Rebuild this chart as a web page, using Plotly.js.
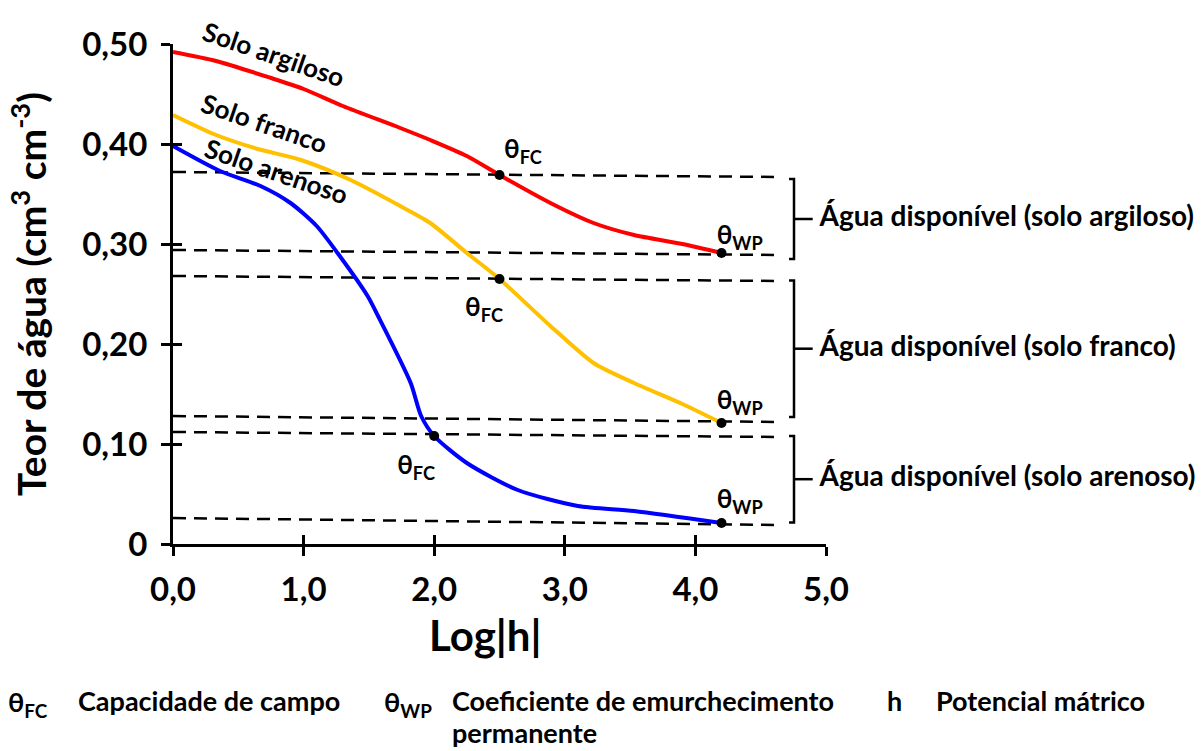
<!DOCTYPE html>
<html>
<head>
<meta charset="utf-8">
<script src="https://cdn.plot.ly/plotly-3.0.1.min.js"></script>
<style>html,body{margin:0;padding:0;background:#fff}#chart{width:1203px;height:751px}</style>
</head>
<body>
<div id="chart"></div>
<script>
// ---- data ----
const logH_argiloso  = [0, 0.33, 0.75, 1.0, 1.3, 1.74, 1.97, 2.25, 2.5, 2.89, 3.22, 3.53, 3.9, 4.2];
const theta_argiloso = [0.492, 0.483, 0.466, 0.455, 0.438, 0.416, 0.404, 0.388, 0.369, 0.341, 0.321, 0.309, 0.300, 0.291];

const logH_franco  = [0, 0.33, 0.65, 0.98, 1.36, 1.74, 1.97, 2.25, 2.5, 2.89, 3.22, 3.53, 3.9, 4.2];
const theta_franco = [0.429, 0.409, 0.395, 0.384, 0.364, 0.338, 0.321, 0.291, 0.265, 0.218, 0.181, 0.161, 0.140, 0.121];

const logH_arenoso  = [0, 0.36, 0.67, 0.9, 1.1, 1.26, 1.49, 1.57, 1.82, 1.9, 2.0, 2.25, 2.64, 3.1, 3.53, 4.2];
const theta_arenoso = [0.398, 0.373, 0.358, 0.341, 0.318, 0.291, 0.248, 0.228, 0.161, 0.128, 0.108, 0.081, 0.054, 0.038, 0.033, 0.021];

const fcX = [2.5, 2.5, 2.0];
const fcY = [0.369, 0.265, 0.108];
const wpX = [4.2, 4.2, 4.2];
const wpY = [0.291, 0.121, 0.021];

// dashed reference levels (left end, right end)
const dashX = [0, 4.64];
const dashLeft  = [0.372, 0.294, 0.268, 0.128, 0.112, 0.026];
const dashRight = [0.367, 0.289, 0.263, 0.122, 0.107, 0.019];

// available-water brackets (top, bottom)
const bracketTop    = [0.365, 0.2636, 0.108];
const bracketBottom = [0.285, 0.127, 0.0216];
const bracketLabels = ['Água disponível (solo argiloso)', 'Água disponível (solo franco)', 'Água disponível (solo arenoso)'];

const xTickVals = [0, 1, 2, 3, 4, 5];
const xTickText = ['0,0', '1,0', '2,0', '3,0', '4,0', '5,0'];
const yTickVals = [0, 0.1, 0.2, 0.3, 0.4, 0.5];
const yTickText = ['0', '0,10', '0,20', '0,30', '0,40', '0,50'];

const legendTexts = ['θ<sub>FC</sub>', 'Capacidade de campo', 'θ<sub>WP</sub>', 'Coeficiente de emurchecimento', 'permanente', 'h', 'Potencial mátrico'];

// ---- build ----
const F = 'Lato';
const BF = (s) => ({family: F, size: s, weight: 700, color: '#000'});
// label placement helpers (page pixel -> axis units / paper units of this plot area)
const pxX = (px) => (px - 172.5) / 130.8;
const pxY = (py) => (544.3 - py) / 1000;
const ppX = (px) => (px - 172.5) / 654;
const ppY = (py) => (544.3 - py) / 500;

const traces = [];

dashLeft.forEach((v, i) => {
  traces.push({x: dashX, y: [v, dashRight[i]], mode: 'lines', hoverinfo: 'skip',
    line: {color: '#000', width: 2.5, dash: '13px,8px'}, showlegend: false, cliponaxis: false});
});

traces.push({x: logH_argiloso, y: theta_argiloso, mode: 'lines', line: {color: '#ff0000', width: 4, shape: 'spline', smoothing: 0.7}, showlegend: false, cliponaxis: false});
traces.push({x: logH_franco, y: theta_franco, mode: 'lines', line: {color: '#ffc000', width: 4, shape: 'spline', smoothing: 0.7}, showlegend: false, cliponaxis: false});
traces.push({x: logH_arenoso, y: theta_arenoso, mode: 'lines', line: {color: '#0000ff', width: 4, shape: 'spline', smoothing: 0.7}, showlegend: false, cliponaxis: false});

traces.push({x: fcX.concat(wpX), y: fcY.concat(wpY), mode: 'markers', marker: {color: '#000', size: 10}, showlegend: false, cliponaxis: false});

const bx = 4.755, bh = 4.717, bm = 4.898;
const bMid = [];
bracketTop.forEach((t, i) => {
  const b = bracketBottom[i], m = (t + b) / 2;
  bMid.push(m);
  traces.push({x: [bh, bx, bx, bh], y: [t, t, b, b], mode: 'lines', line: {color: '#000', width: 2.5}, showlegend: false, cliponaxis: false, hoverinfo: 'skip'});
  traces.push({x: [bx, bm], y: [m, m], mode: 'lines', line: {color: '#000', width: 2.5}, showlegend: false, cliponaxis: false, hoverinfo: 'skip'});
});
traces.push({x: bMid.map(() => 4.95), y: bMid, mode: 'text', text: bracketLabels, textposition: 'middle right',
  textfont: BF(28), showlegend: false, cliponaxis: false, hoverinfo: 'skip'});

// θ labels next to the points
traces.push({x: [pxX(504), pxX(717), pxX(465), pxX(717), pxX(397), pxX(717)],
  y: [pxY(152), pxY(238), pxY(310), pxY(403), pxY(468), pxY(502)],
  mode: 'text', text: ['θ<sub>FC</sub>', 'θ<sub>WP</sub>', 'θ<sub>FC</sub>', 'θ<sub>WP</sub>', 'θ<sub>FC</sub>', 'θ<sub>WP</sub>'],
  textposition: 'middle right', textfont: BF(26), showlegend: false, cliponaxis: false, hoverinfo: 'skip'});

// dummy trace for crossing ticks
traces.push({x: [0], y: [0], xaxis: 'x2', yaxis: 'y2', mode: 'markers', marker: {opacity: 0}, showlegend: false, hoverinfo: 'skip'});

const annotations = [];
const sl = (txt, x, y) => ({x: x, y: y, xref: 'x', yref: 'y', xanchor: 'center', yanchor: 'middle', showarrow: false,
  text: '<b>' + txt + '</b>', textangle: 19, font: {family: F, size: 26, color: '#000'}});
annotations.push(sl('Solo argiloso', 0.77, 0.490));
annotations.push(sl('Solo franco', 0.70, 0.421));
annotations.push(sl('Solo arenoso', 0.79, 0.373));

// x axis title
annotations.push({x: ppX(485), y: ppY(635), xref: 'paper', yref: 'paper', xanchor: 'center', yanchor: 'middle',
  showarrow: false, text: '<b>Log|h|</b>', font: {family: F, size: 42, color: '#000'}});

// bottom legend
const legX = [5, 75, 382, 450, 450, 886, 935];
const legY = [704, 701, 704, 701, 733, 701, 701];
legendTexts.forEach((t, i) => {
  annotations.push({x: ppX(legX[i]), y: ppY(legY[i]), xref: 'paper', yref: 'paper', xanchor: 'left', yanchor: 'middle',
    showarrow: false, text: '<b>' + t + '</b>', font: {family: F, size: 27, color: '#000'}});
});

const layout = {
  width: 1203, height: 751,
  margin: {l: 172.5, r: 376.5, t: 44.3, b: 206.7, pad: 0},
  paper_bgcolor: '#fff', plot_bgcolor: '#fff',
  showlegend: false,
  xaxis: {range: [0, 5], tickvals: xTickVals, ticktext: xTickText, ticks: 'outside', ticklen: 9, tickwidth: 3, tickcolor: '#000',
    showline: true, linecolor: '#000', linewidth: 3, showgrid: false, zeroline: false, ticklabelstandoff: 5,
    tickfont: BF(33), fixedrange: true},
  yaxis: {range: [0, 0.5], tickvals: yTickVals, ticktext: yTickText, ticks: 'outside', ticklen: 9, tickwidth: 3, tickcolor: '#000',
    showline: true, linecolor: '#000', linewidth: 3, showgrid: false, zeroline: false, ticklabelstandoff: 7,
    tickfont: BF(33), fixedrange: true,
    title: {text: 'Teor de água (cm<sup>3</sup> cm<sup>-3</sup>)', standoff: 24, font: BF(39)}},
  xaxis2: {overlaying: 'x', range: [0, 5], tickvals: xTickVals, ticks: 'inside', ticklen: 9, tickwidth: 3, tickcolor: '#000',
    showticklabels: false, showline: false, showgrid: false, zeroline: false, anchor: 'y2', side: 'bottom', fixedrange: true},
  yaxis2: {overlaying: 'y', range: [0, 0.5], tickvals: yTickVals, ticks: 'inside', ticklen: 9, tickwidth: 3, tickcolor: '#000',
    showticklabels: false, showline: false, showgrid: false, zeroline: false, anchor: 'x2', side: 'left', fixedrange: true},
  annotations: annotations
};

Plotly.newPlot('chart', traces, layout, {displayModeBar: false});
</script>
</body>
</html>
